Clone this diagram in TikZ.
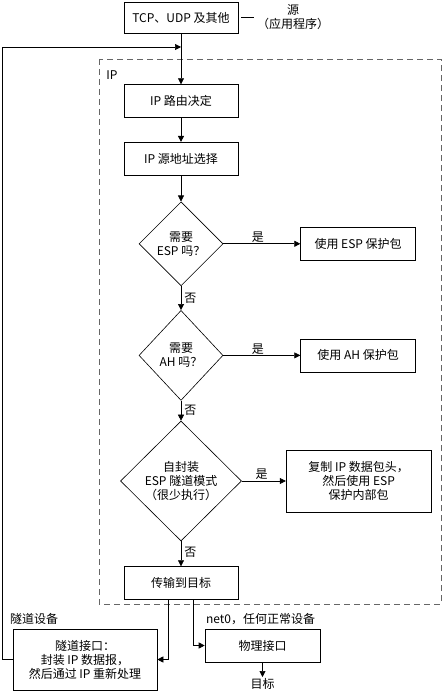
\documentclass[tikz,border=0pt]{standalone}
\usepackage{fontspec}
\setmainfont{Noto Sans CJK SC}
\usetikzlibrary{arrows.meta,positioning,shapes.geometric}

\begin{document}
\begin{tikzpicture}[
  x=1pt,y=-1pt,
  font=\fontsize{12}{14}\selectfont,
  >={Triangle[length=6pt,width=6pt]},
  line width=0.6pt,
  stepbox/.style={
    draw,
    align=center,
    inner sep=2pt,
    minimum width=114pt,
    minimum height=33pt
  },
  ask/.style={
    draw,
    diamond,
    aspect=1,
    align=center,
    inner sep=0pt
  },
  lbl/.style={inner sep=1pt}
]
\useasboundingbox (0,0) rectangle (443,692);
\draw[gray!80!black,dash pattern=on 6pt off 4pt] (99,59) rectangle (441,604);
\node[lbl,anchor=west] (iplbl) at (105,75) {IP};

\node[stepbox,minimum height=31pt] (src) at (181,17.5) {TCP、UDP 及其他};
\node[lbl,align=center] (srclbl) at (293,17.5) {源\\（应用程序）};
\node[stepbox,below=51pt of src] (route) {IP 路由决定};
\node[stepbox,below=24pt of route] (addr) {IP 源地址选择};
\node[ask,minimum width=84pt,minimum height=84pt,below=26pt of addr] (esp) {需要\\ESP 吗？};
\node[ask,minimum width=84pt,minimum height=90pt,below=24pt of esp] (ah) {需要\\AH 吗？};
\node[ask,minimum width=121pt,minimum height=120pt,below=20pt of ah] (tun) {自封装\\ESP 隧道模式\\（很少执行）};
\node[stepbox,below=25pt of tun] (xmit) {传输到目标};
\node[stepbox,minimum width=115pt,right=77pt of esp] (espbox) {使用 ESP 保护包};
\node[stepbox,minimum width=115pt,right=77pt of ah] (ahbox) {使用 AH 保护包};
\node[stepbox,minimum width=145pt,minimum height=62pt,right=44pt of tun] (copybox) {复制 IP 数据包头，\\然后使用 ESP\\保护内部包};
\node[stepbox,minimum width=144pt,minimum height=61pt] (tunif) at (85,659.5) {隧道接口：\\封装 IP 数据报，\\然后通过 IP 重新处理};
\node[stepbox,minimum width=115pt] (phys) at (262.5,645.5) {物理接口};
\node[lbl,anchor=north] (dst) at (phys.south |- 0,677) {目标};
\node[lbl,anchor=south west] (tunlbl) at ([xshift=-4pt,yshift=3pt]tunif.north west) {隧道设备};
\node[lbl,anchor=south west] (physlbl) at ([yshift=3pt]phys.north west) {net0，任何正常设备};

\coordinate (join) at (181,47);
\coordinate (loopcorner) at (2,47);

\draw ([xshift=3pt]src.east) -- ([xshift=-2pt]srclbl.west);
\draw[->] (src) -- (route);
\draw[->] (tunif.west) -| (loopcorner) -- (join);
\draw[->] (route) -- (addr);
\draw[->] (addr) -- (esp);
\draw[->] (esp) -- node[lbl,anchor=west,xshift=2pt] {否} (ah);
\draw[->] (ah) -- node[lbl,anchor=west,xshift=2pt] {否} (tun);
\draw[->] (tun) -- node[lbl,anchor=west,xshift=2pt,pos=0.45] {否} (xmit);
\draw[->] (esp) -- node[lbl,above,pos=0.45] {是} (espbox);
\draw[->] (ah) -- node[lbl,above,pos=0.45] {是} (ahbox);
\draw[->] (tun) -- node[lbl,above,pos=0.45] {是} (copybox);
\draw[->] ([xshift=-13pt]xmit.south) |- (tunif.east);
\draw[->] ([xshift=12pt]xmit.south) |- (phys.west);
\draw[->] (phys) -- (dst);
\end{tikzpicture}
\end{document}
